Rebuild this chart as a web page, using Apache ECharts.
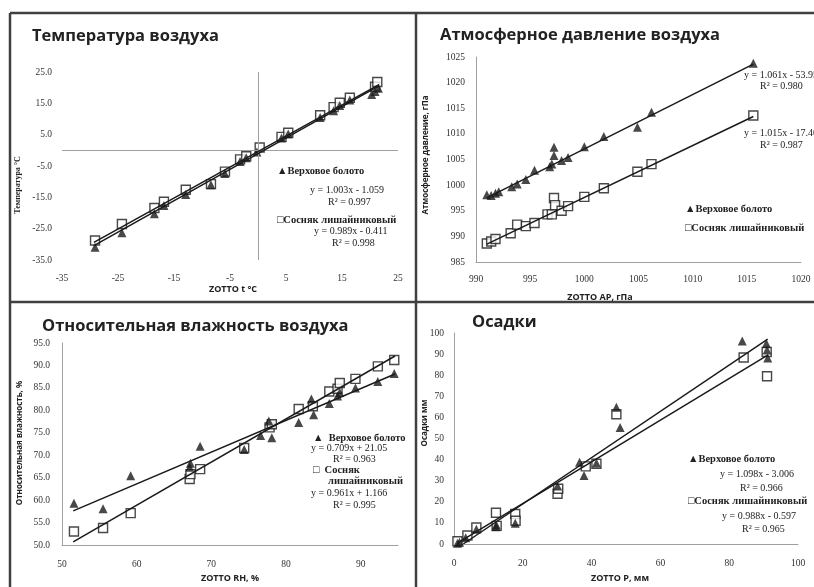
<!DOCTYPE html>
<html>
<head>
<meta charset="utf-8">
<script src="https://cdn.jsdelivr.net/npm/echarts@6/dist/echarts.min.js"></script>
<style>
  html, body { margin: 0; padding: 0; background: #fff; }
  #chart { width: 814px; height: 587px; }
</style>
</head>
<body>
<div id="chart"></div>
<script>
// --- data ---
const bogName = 'Верховое болото'
const pineName = 'Сосняк лишайниковый'

// Температура воздуха: [ZOTTO, станция]
const tempBog = [[-29.1, -30.9], [-24.3, -26.3], [-18.5, -20.2], [-16.8, -17.6], [-12.9, -14.1], [-8.4, -11.0], [-5.9, -7.4], [-3.2, -3.6], [-2.1, -2.4], [-0.2, -0.5], [4.2, 3.9], [5.4, 5.2], [11.1, 10.5], [13.5, 12.6], [14.6, 14.3], [16.4, 16.1], [20.3, 17.8], [20.9, 18.8], [21.5, 19.8]]
const tempPine = [[-29.1, -28.8], [-24.3, -23.5], [-18.5, -18.4], [-16.8, -16.4], [-12.9, -12.6], [-8.4, -10.8], [-5.9, -6.8], [-3.2, -2.9], [-2.1, -1.9], [0.3, 0.9], [4.2, 4.3], [5.4, 5.6], [11.1, 11.2], [13.5, 13.8], [14.6, 15.2], [16.4, 16.8], [20.9, 20.3], [21.3, 21.8]]
const tempBogTrend = [[-29.3, -30.4], [21.6, 20.6]]
const tempPineTrend = [[-29.3, -29.4], [21.6, 21.0]]
const tempEq = ['y = 1.003x - 1.059', 'R² = 0.997', 'y = 0.989x - 0.411', 'R² = 0.998']

// Атмосферное давление
const presBog = [[991.0, 998.1], [991.4, 998.0], [991.8, 998.4], [992.1, 998.7], [993.3, 999.7], [993.8, 1000.2], [994.6, 1001.1], [995.4, 1002.9], [996.8, 1003.6], [997.0, 1004.1], [997.2, 1005.8], [997.2, 1007.4], [997.9, 1004.8], [998.5, 1005.4], [1000.0, 1007.5], [1001.8, 1009.5], [1004.9, 1011.3], [1006.2, 1014.2], [1015.6, 1023.8]]
const presPine = [[991.0, 988.6], [991.4, 989.0], [991.8, 989.5], [993.2, 990.6], [993.8, 992.3], [994.6, 992.0], [995.4, 992.6], [996.6, 994.3], [997.0, 994.3], [997.2, 997.5], [997.3, 996.1], [997.9, 995.0], [998.5, 995.9], [1000.0, 997.7], [1001.8, 999.4], [1004.9, 1002.6], [1006.2, 1004.1], [1015.6, 1013.6]]
const presBogTrend = [[991.0, 997.5], [1015.6, 1023.6]]
const presPineTrend = [[991.0, 988.5], [1015.6, 1013.4]]
const presEq = ['y = 1.061x - 53.95', 'R² = 0.980', 'y = 1.015x - 17.40', 'R² = 0.987']

// Относительная влажность
const humBog = [[51.6, 59.3], [55.5, 58.1], [59.2, 65.4], [67.1, 67.3], [67.2, 68.2], [68.5, 72.0], [74.4, 71.3], [76.6, 74.4], [77.7, 77.6], [78.1, 73.9], [81.7, 77.3], [83.4, 82.5], [83.7, 79.0], [85.8, 81.5], [86.9, 83.2], [87.2, 84.0], [89.3, 85.0], [92.3, 86.4], [94.5, 88.2]]
const humPine = [[51.6, 53.0], [55.5, 53.8], [59.2, 57.1], [67.1, 64.7], [67.2, 65.8], [68.5, 66.9], [74.4, 71.6], [77.8, 76.2], [78.1, 76.9], [81.7, 80.3], [83.6, 80.9], [85.8, 84.2], [86.9, 84.8], [87.2, 86.1], [89.3, 87.0], [92.3, 89.8], [94.5, 91.2]]
const humBogTrend = [[51.5, 57.6], [94.6, 88.1]]
const humPineTrend = [[51.5, 50.7], [94.6, 92.1]]
const humEq = ['y = 0.709x + 21.05', 'R² = 0.963', 'y = 0.961x + 1.166', 'R² = 0.995']

// Осадки
const rainBog = [[1.0, 0.3], [1.6, 0.8], [3.4, 3.0], [6.5, 7.0], [12.2, 8.2], [12.3, 9.0], [17.8, 9.8], [30.1, 27.5], [36.5, 38.8], [37.8, 32.5], [41.4, 38.4], [47.2, 64.8], [48.3, 55.2], [83.8, 96.2], [90.8, 95.0], [91.0, 92.0], [91.2, 88.2]]
const rainPine = [[1.0, 1.3], [3.9, 4.0], [6.5, 7.8], [12.2, 14.8], [12.4, 8.6], [17.8, 14.2], [17.9, 11.0], [30.1, 23.8], [30.3, 26.2], [38.3, 36.8], [41.4, 38.0], [47.2, 61.5], [84.2, 88.4], [90.9, 91.0], [91.0, 79.5]]
const rainBogTrend = [[2.7, 0], [91.2, 97.1]]
const rainPineTrend = [[1.0, 0.4], [91.2, 89.5]]
const rainEq = ['y = 1.098x - 3.006', 'R² = 0.966', 'y = 0.988x - 0.597', 'R² = 0.965']

// --- styles ---
const serif = '"Liberation Serif", "DejaVu Serif", serif'
const sans = '"Open Sans", "Noto Sans", sans-serif'
const ink = '#1a1a1a'
const plain = v => String(v)
const oneDecimal = v => v.toFixed(1)

function label (margin, formatter, extra) {
  return Object.assign({ color: '#333', fontFamily: serif, fontSize: 9.5, margin, formatter }, extra)
}

function axis (gridIndex, min, max, interval, axisLabel, showLine) {
  return {
    type: 'value',
    gridIndex,
    min,
    max,
    interval,
    axisLine: { show: showLine, onZero: false, lineStyle: { color: '#a0a0a0', width: 1 } },
    axisTick: { show: false },
    splitLine: { show: false },
    axisLabel
  }
}

function points (name, data, idx, bog) {
  return {
    name,
    type: 'scatter',
    xAxisIndex: idx,
    yAxisIndex: idx,
    data,
    symbol: bog ? 'triangle' : 'rect',
    symbolSize: 9,
    itemStyle: bog
      ? { color: ink }
      : { color: '#fff', borderColor: ink, borderWidth: 1.4 },
    z: bog ? 4 : 3
  }
}

function trend (data, idx) {
  return {
    type: 'line',
    xAxisIndex: idx,
    yAxisIndex: idx,
    data,
    symbol: 'none',
    lineStyle: { color: ink, width: 1.5 },
    z: 5
  }
}

function txt (text, x, y, font, align) {
  return {
    type: 'text',
    x,
    y,
    silent: true,
    style: { text, font, fill: '#222', align: align || 'left', verticalAlign: 'middle' }
  }
}

function vtxt (text, x, y, font) {
  return {
    type: 'text',
    x,
    y,
    rotation: Math.PI / 2,
    silent: true,
    style: { text, font, fill: '#222', align: 'center', verticalAlign: 'middle' }
  }
}

function frame (x1, y1, x2, y2) {
  return {
    type: 'line',
    silent: true,
    shape: { x1, y1, x2, y2 },
    style: { stroke: '#404040', lineWidth: 2.5 }
  }
}

const legFont = 'bold 10.5px ' + serif
const eqFont = '10px ' + serif
const axFont = 'bold 9px ' + sans
const yFont = 'bold 8px ' + sans
const titleStyle = { fontFamily: sans, fontWeight: 'bold', fontSize: 16.5, color: '#222' }

const chart = echarts.init(document.getElementById('chart'))

const option = {
  animation: false,
  backgroundColor: '#fff',
  title: [
    { text: 'Температура воздуха', left: 32, top: 28, padding: 0, textStyle: titleStyle },
    { text: 'Атмосферное давление воздуха', left: 440, top: 27, padding: 0, textStyle: titleStyle },
    { text: 'Относительная влажность воздуха', left: 42, top: 318, padding: 0, textStyle: titleStyle },
    { text: 'Осадки', left: 472, top: 314, padding: 0, textStyle: titleStyle }
  ],
  grid: [
    { left: 62, top: 72, width: 336, height: 188 },
    { left: 476, top: 57, width: 325, height: 205 },
    { left: 62, top: 343, width: 336, height: 202 },
    { left: 454, top: 333, width: 344, height: 211 }
  ],
  xAxis: [
    axis(0, -35, 25, 10, label(13, plain), false),
    axis(1, 990, 1020, 5, label(12, plain), true),
    axis(2, 50, 95, 10, label(14, plain, { showMaxLabel: false }), true),
    axis(3, 0, 100, 20, label(14, plain), true)
  ],
  yAxis: [
    axis(0, -35, 25, 10, label(10, oneDecimal), false),
    axis(1, 985, 1025, 5, label(11, plain), true),
    axis(2, 50, 95, 5, label(12, oneDecimal), true),
    axis(3, 0, 100, 10, label(10, plain), true)
  ],
  series: [
    Object.assign(points(bogName, tempBog, 0, true), {
      markLine: {
        silent: true,
        symbol: 'none',
        label: { show: false },
        lineStyle: { color: '#a0a0a0', width: 1, type: 'solid' },
        data: [{ xAxis: 0 }, { yAxis: 0 }]
      }
    }),
    points(pineName, tempPine, 0, false),
    trend(tempBogTrend, 0),
    trend(tempPineTrend, 0),
    points(bogName, presBog, 1, true),
    points(pineName, presPine, 1, false),
    trend(presBogTrend, 1),
    trend(presPineTrend, 1),
    points(bogName, humBog, 2, true),
    points(pineName, humPine, 2, false),
    trend(humBogTrend, 2),
    trend(humPineTrend, 2),
    points(bogName, rainBog, 3, true),
    points(pineName, rainPine, 3, false),
    trend(rainBogTrend, 3),
    trend(rainPineTrend, 3)
  ],
  graphic: [
    frame(10, 13, 814, 13),
    frame(10, 13, 10, 587),
    frame(416, 13, 416, 587),
    frame(10, 302, 814, 302),

    // подписи осей
    txt('ZOTTO t °C', 233, 289, axFont, 'center'),
    vtxt('Температура °C', 18, 185, 'bold 8px ' + serif),
    txt('ZOTTO AP, гПа', 600, 297, axFont, 'center'),
    vtxt('Атмосферное давление, гПа', 426, 155, yFont),
    txt('ZOTTO RH, %', 230, 578, axFont, 'center'),
    vtxt('Относительная влажность, %', 20, 443, yFont),
    txt('ZOTTO P, мм', 620, 578, axFont, 'center'),
    vtxt('Осадки мм', 425, 423, yFont),

    // панель 1
    txt('▲' + bogName, 277, 171, legFont),
    txt(tempEq[0], 310, 190, eqFont),
    txt(tempEq[1], 328, 202, eqFont),
    txt('□' + pineName, 277, 220, legFont),
    txt(tempEq[2], 314, 231, eqFont),
    txt(tempEq[3], 332, 243, eqFont),

    // панель 2
    txt(presEq[0], 744, 75, eqFont),
    txt(presEq[1], 760, 86, eqFont),
    txt(presEq[2], 744, 133, eqFont),
    txt(presEq[3], 760, 145, eqFont),
    txt('▲' + bogName, 685, 209, legFont),
    txt('□' + pineName, 685, 228, legFont),

    // панель 3
    txt('▲  ' + bogName, 313, 438, legFont),
    txt(humEq[0], 311, 448, eqFont),
    txt(humEq[1], 333, 459, eqFont),
    txt('□  Сосняк', 313, 470, legFont),
    txt('лишайниковый', 328, 481, legFont),
    txt(humEq[2], 311, 493, eqFont),
    txt(humEq[3], 333, 505, eqFont),

    // панель 4
    txt('▲' + bogName, 688, 459, legFont),
    txt(rainEq[0], 720, 474, eqFont),
    txt(rainEq[1], 740, 488, eqFont),
    txt('□' + pineName, 688, 501, legFont),
    txt(rainEq[2], 722, 516, eqFont),
    txt(rainEq[3], 742, 529, eqFont)
  ]
}

chart.setOption(option)
</script>
</body>
</html>
